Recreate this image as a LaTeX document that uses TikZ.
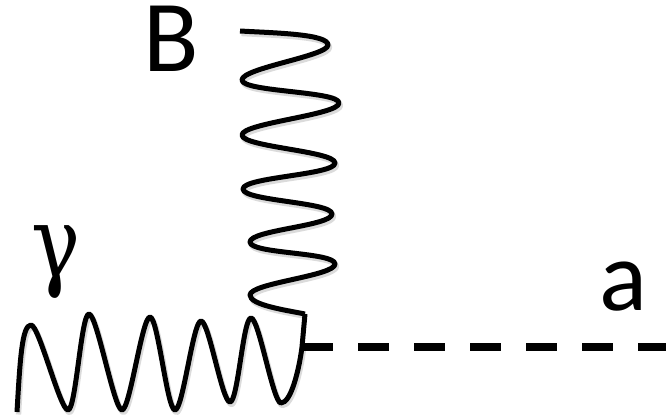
\documentclass[tikz,border=0pt]{standalone}
\usepackage{fontspec}
\setmainfont{Carlito}
\newfontfamily\greekfont{DejaVu Serif}
\tikzset{
  wave/.style={line width=5pt,line join=round,black},
  waveshadow/.style={line width=5.4pt,line join=round,black!14},
  scalar/.style={line width=8.5pt,black,dash pattern=on 31pt off 25pt},
  lab/.style={inner sep=0pt,outer sep=0pt,anchor=base,black}
}
\newcommand{\photonB}{(240,31) .. controls (275,33) and (328,34) .. (328,45) .. controls (328,56) and (242,68) .. (242,80) .. controls (242,92) and (339,91) .. (339,103) .. controls (339,115) and (242,123) .. (242,135) .. controls (242,147) and (335,151) .. (335,163) .. controls (335,175) and (243,177) .. (243,189) .. controls (243,201) and (332,202) .. (332,214) .. controls (332,226) and (250,230) .. (250,242) .. controls (250,254) and (335,252) .. (335,264) .. controls (335,276) and (250,283) .. (250,295) .. controls (250,305) and (285,310) .. (305,314)}
\newcommand{\photonG}{(17,412) .. controls (20,360) and (22,325) .. (31,325) .. controls (39,325) and (60,410) .. (68,410) .. controls (76,410) and (81,314) .. (89,314) .. controls (97,314) and (114,410) .. (122,410) .. controls (130,410) and (142,317) .. (150,317) .. controls (158,317) and (167,410) .. (175,410) .. controls (183,410) and (193,321) .. (201,321) .. controls (209,321) and (222,402) .. (230,402) .. controls (238,402) and (243,318) .. (251,318) .. controls (259,318) and (273,403) .. (281,403) .. controls (291,403) and (299,370) .. (302,347)}
\begin{document}
\begin{tikzpicture}[x=1pt,y=-1pt]
\useasboundingbox (0,0) rectangle (666,417);
\coordinate (vtop) at (305,314);
\coordinate (vtx) at (302,347);
\coordinate (aend) at (666,347);
\begin{scope}[shift={(1.5,2.5)}]
\draw[waveshadow] \photonB;
\draw[waveshadow] \photonG;
\end{scope}
\draw[wave] \photonB;
\draw[wave] \photonG;
\draw[wave] (vtop) -- (vtx);
\draw[scalar] (vtx) -- (aend);
\node[lab] (labB) at (171,72) {\fontsize{102}{102}\selectfont B};
\node[lab] (laba) at (623,310) {\fontsize{100}{100}\selectfont a};
\node[lab] (labg) at (56,277) {\scalebox{0.82}[1]{\fontsize{100}{100}\selectfont\greekfont γ}};
\end{tikzpicture}
\end{document}
